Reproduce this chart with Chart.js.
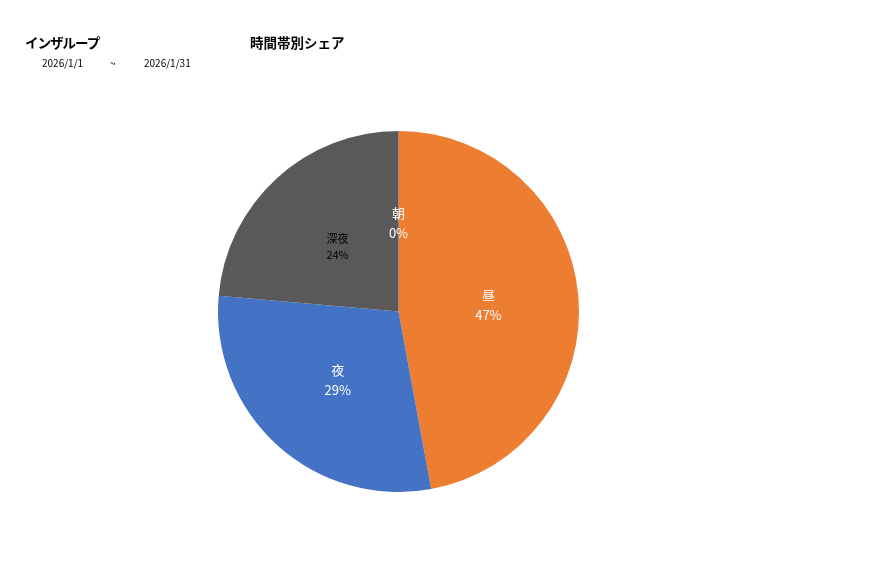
<!DOCTYPE html>
<html>
<head>
<meta charset="utf-8">
<script src="https://cdn.jsdelivr.net/npm/chart.js@4"></script>
<style>
  html, body { margin: 0; padding: 0; background: #fff; }
  body { width: 877px; height: 578px; position: relative; overflow: hidden;
         font-family: "Noto Sans CJK JP", "Noto Sans", sans-serif; }
  #wrap { position: absolute; left: 0; top: 0; width: 877px; height: 578px; }
  .t { position: absolute; white-space: nowrap; color: #000; }
  .big { font-size: 13.5px; font-weight: bold; }
  .small { font-size: 10px; }
</style>
</head>
<body>
<div id="wrap"><canvas id="pieCanvas"></canvas></div>
<div class="t big" style="left:25px; top:32px; letter-spacing:-1px;">インザループ</div>
<div class="t big" style="left:250px; top:32px;">時間帯別シェア</div>
<div class="t small" style="left:42px; top:55px;">2026/1/1</div>
<div class="t small" style="left:110px; top:55px;">~</div>
<div class="t small" style="left:144px; top:55px;">2026/1/31</div>
<script>
// time-of-day share (percent of total)
var categories = ['朝', '昼', '夜', '深夜'];
var shares = [0, 47.1, 29.3, 23.6];

var sliceColors = ['#A5A5A5', '#ED7D31', '#4472C4', '#595959'];
var labelColors = ['#fff', '#fff', '#fff', '#000'];
var labelSizes = [13, 13, 13, 11];

var pieLabels = {
  id: 'pieLabels',
  afterDatasetsDraw: function (chart) {
    var ctx = chart.ctx;
    var meta = chart.getDatasetMeta(0);
    var data = chart.data.datasets[0].data;
    var total = data.reduce(function (a, b) { return a + b; }, 0);
    ctx.save();
    ctx.textAlign = 'center';
    ctx.textBaseline = 'middle';
    meta.data.forEach(function (arc, i) {
      var pos = arc.tooltipPosition();
      var size = labelSizes[i];
      var gap = size * 0.75;
      var y = pos.y + 2;
      ctx.fillStyle = labelColors[i];
      ctx.font = size + 'px "Noto Sans CJK JP", sans-serif';
      ctx.fillText(chart.data.labels[i], pos.x, y - gap);
      ctx.font = size + 'px "Noto Sans CJK JP", sans-serif';
      ctx.fillText(Math.round(data[i] / total * 100) + '%', pos.x, y + gap);
    });
    ctx.restore();
  }
};

var graph = new Chart(document.getElementById('pieCanvas').getContext('2d'), {
  type: 'pie',
  data: {
    labels: categories,
    datasets: [{
      data: shares,
      backgroundColor: sliceColors,
      borderWidth: 0
    }]
  },
  options: {
    responsive: true,
    maintainAspectRatio: false,
    animation: false,
    layout: {
      padding: { top: 131, bottom: 86, left: 218, right: 298 }
    },
    plugins: {
      legend: { display: false },
      title: { display: false },
      tooltip: { enabled: false }
    }
  },
  plugins: [pieLabels]
});
</script>
</body>
</html>
